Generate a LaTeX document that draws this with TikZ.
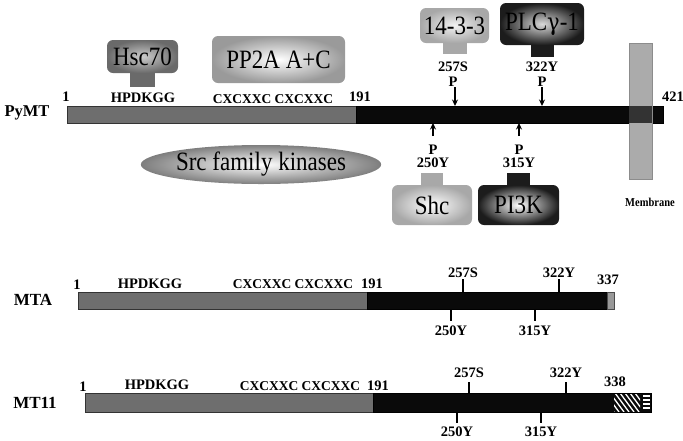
\documentclass[tikz,border=0pt]{standalone}
\usepackage{fontspec}
\setmainfont{Liberation Serif}
\usetikzlibrary{arrows.meta,shapes.geometric,calc}
\definecolor{bargray}{HTML}{6E6E6E}
\definecolor{barblack}{HTML}{0A0A0A}
\definecolor{hscc}{HTML}{6A6A6A}
\definecolor{ppc}{HTML}{9A9A9A}
\definecolor{lightc}{HTML}{A8A8A8}
\definecolor{darkc}{HTML}{1C1C1C}
\definecolor{srcc}{HTML}{7E7E7E}
\definecolor{memc}{HTML}{ABABAB}
\definecolor{memov}{HTML}{333333}
\newcommand{\tallt}[1]{\scalebox{1}[1.15]{#1}}
\tikzset{
 lbl/.style={font=\fontsize{14.5}{14.5}\selectfont\bfseries, inner sep=0pt},
 rowname/.style={font=\fontsize{17}{17}\selectfont\bfseries, inner sep=0pt},
 prot/.style={rounded corners=6pt, inner sep=0pt, font=\fontsize{23}{23}\selectfont},
 arr/.style={line width=1.4pt, -{Stealth[length=6.5pt,width=6pt]}},
 tickline/.style={line width=1.4pt},
 graypart/.style={fill=bargray, draw=black!80, line width=0.5pt},
 blackpart/.style={fill=barblack, draw=black, line width=0.5pt},
}
\begin{document}
\begin{tikzpicture}[x=1pt,y=-1pt]
\useasboundingbox (0,0) rectangle (683,440);

% ---------------- PyMT ----------------
\draw[graypart] (67,106) rectangle (356,123);
\draw[blackpart] (356,106) rectangle (663,123);
% membrane
\draw[fill=memc, draw=black!45, line width=0.5pt] (629,43) rectangle (652,179);
\fill[memov] (629.3,106.3) rectangle (651.7,122.7);
\node[font=\fontsize{10.5}{10.5}\selectfont\bfseries, inner sep=0pt] (memb) at (650,202) {\tallt{Membrane}};

\node[rowname, font=\fontsize{16.5}{16.5}\selectfont\bfseries] (pymt) at (27,113) {PyMT};
\node[lbl] (p1) at (66,97) {1};
\node[lbl] (phpd) at (143,98) {HPDKGG};
\node[lbl, font=\fontsize{13.5}{13.5}\selectfont\bfseries] (pcxc) at (273,99) {CXCXXC CXCXXC};
\node[lbl] (p191) at (360,97) {191};
\node[lbl] (p421) at (673,97) {421};

% binding proteins above
\node[prot, minimum width=71pt, minimum height=33pt, outer color=hscc, inner color=black!20] (hsc) at (142.5,56.5) {\tallt{Hsc70}};
\fill[hscc] ($(hsc.south)+(-12.5,0)$) rectangle ($(hsc.south)+(12.5,14)$);
\node[prot, minimum width=133pt, minimum height=47pt, outer color=ppc, inner color=white] (pp2a) at (278.5,59.5) {\tallt{PP2A A+C}};
\node[prot, minimum width=69pt, minimum height=35pt, outer color=lightc, inner color=black!5] (t1433) at (454.5,25.5) {\tallt{14-3-3}};
\fill[lightc] ($(t1433.south)+(-12,0)$) rectangle ($(t1433.south)+(12,11)$);
\node[prot, minimum width=84pt, minimum height=42pt, outer color=darkc, inner color=black!15] (plc) at (542,24) {\tallt{PLC\fontspec{DejaVu Serif}\fontsize{21}{21}\selectfont γ\fontspec{Liberation Serif}\fontsize{23}{23}\selectfont-1}};
\fill[darkc] ($(plc.south)+(-11.5,0)$) rectangle ($(plc.south)+(11.5,12)$);

\node[lbl] (s257) at (453,67) {257S};
\node[lbl] (pp257) at (453,82) {P};
\node[lbl] (s322) at (542,67) {322Y};
\node[lbl] (pp322) at (542,82) {P};
\coordinate (b257) at (455,106);
\coordinate (b322) at (542,106);
\draw[arr] (455,87) coordinate (t257) -- (b257);
\draw[arr] (542,87) coordinate (t322) -- (b322);

% below
\coordinate (b250) at (433,123);
\coordinate (b315) at (519,123);
\coordinate (t250) at (433,136);
\coordinate (t315) at (519,136);
\draw[arr] (t250) -- (b250);
\draw[arr] (t315) -- (b315);
\node[lbl] (pp250) at (433,150) {P};
\node[lbl] (s250) at (433,163) {250Y};
\node[lbl] (pp315) at (519,150) {P};
\node[lbl] (s315) at (519,163) {315Y};

\node[prot, minimum width=80pt, minimum height=40pt, outer color=lightc, inner color=white] (shc) at (432,205) {\tallt{Shc}};
\fill[lightc] ($(shc.north)+(-11,0)$) rectangle ($(shc.north)+(11,-12)$);
\node[prot, minimum width=81pt, minimum height=40pt, outer color=darkc, inner color=white] (pi3k) at (518.5,205) {\tallt{PI3K}};
\fill[darkc] ($(pi3k.north)+(-11.5,0)$) rectangle ($(pi3k.north)+(11.5,-12)$);

\node[ellipse, inner sep=0pt, minimum width=226pt, minimum height=39pt, outer color=srcc, inner color=white, font=\fontsize{23}{23}\selectfont] (src) at (261,164.5) {\tallt{Src family kinases}};

% ---------------- MTA ----------------
\draw[graypart] (78,292) rectangle (367,309);
\draw[blackpart] (367,292) rectangle (607,309);
\draw[fill=black!40, draw=black!70, line width=0.5pt] (607,292) rectangle (614,309);
\node[rowname] (mta) at (33,300) {MTA};
\node[lbl] (m1) at (77,285) {1};
\node[lbl] (mhpd) at (150,284) {HPDKGG};
\node[lbl, font=\fontsize{13.5}{13.5}\selectfont\bfseries] (mcxc) at (293,284) {CXCXXC CXCXXC};
\node[lbl] (m191) at (372,284) {191};
\node[lbl] (m337) at (608,280) {337};
\node[lbl] (m257) at (463,273) {257S};
\node[lbl] (m322) at (559,273) {322Y};
\node[lbl] (m250) at (451,331) {250Y};
\node[lbl] (m315) at (535,331) {315Y};
\draw[tickline] (463,279) -- (463,292);
\draw[tickline] (559,279) -- (559,292);
\draw[tickline] (451,309) -- (451,321);
\draw[tickline] (535,309) -- (535,321);

% ---------------- MT11 ----------------
\draw[graypart] (85,393) rectangle (373,412);
\draw[blackpart] (373,393) rectangle (651,412);
\begin{scope}
\clip (614,394) rectangle (640,411);
\foreach \xx in {600,605,...,640} {
  \draw[white, line width=1.3pt] (\xx,393) -- (\xx+14,412);
}
\end{scope}
\foreach \yy in {396,400,404,408} {
  \draw[white, line width=1.2pt] (643,\yy) -- (650,\yy);
}
\node[rowname] (mt11) at (35,403) {MT11};
\node[lbl] (n1) at (83,387) {1};
\node[lbl] (nhpd) at (157,385) {HPDKGG};
\node[lbl, font=\fontsize{13.5}{13.5}\selectfont\bfseries] (ncxc) at (300,386) {CXCXXC CXCXXC};
\node[lbl] (n191) at (378,386) {191};
\node[lbl] (n338) at (615,382) {338};
\node[lbl] (n257) at (469,373) {257S};
\node[lbl] (n322) at (566,373) {322Y};
\node[lbl] (n250) at (457,432) {250Y};
\node[lbl] (n315) at (541,432) {315Y};
\draw[tickline] (469,382) -- (469,393);
\draw[tickline] (566,382) -- (566,393);
\draw[tickline] (457,412) -- (457,423);
\draw[tickline] (541,412) -- (541,423);
\end{tikzpicture}
\end{document}
